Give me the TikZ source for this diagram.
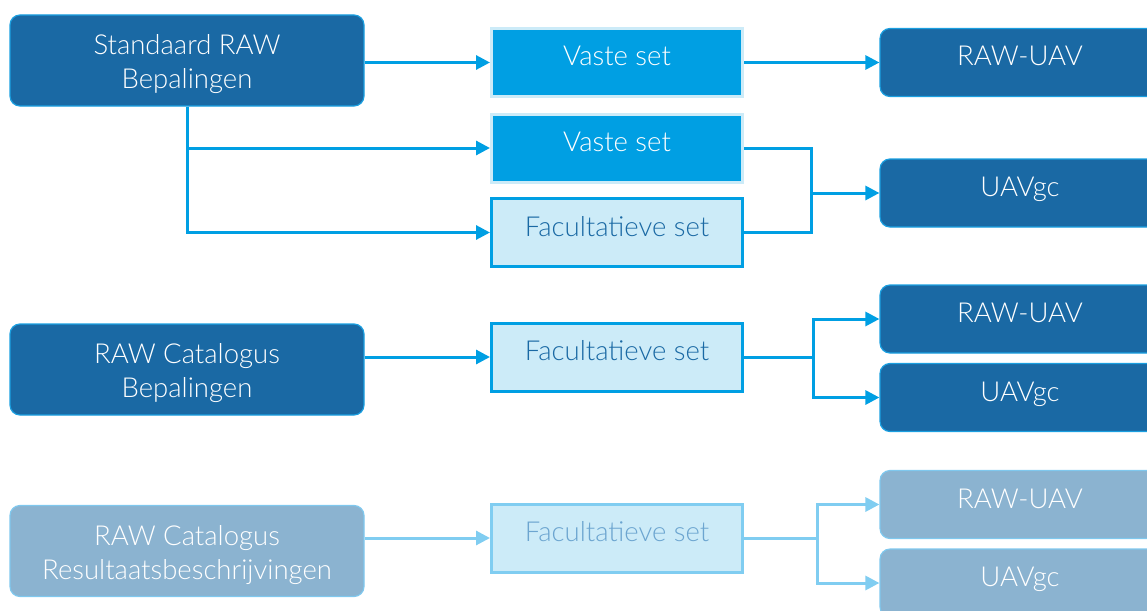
\documentclass[tikz,border=0pt]{standalone}
\usepackage{fontspec}
\setmainfont{Lato}[UprightFont={* Light}]
\usetikzlibrary{arrows.meta}
\newcommand\tallstrut{\rule{0pt}{28pt}}
\definecolor{darkbox}{HTML}{1A69A4}
\definecolor{boxedge}{HTML}{1A9FE0}
\definecolor{vaste}{HTML}{009FE3}
\definecolor{pale}{HTML}{CCEBF8}
\definecolor{fadebox}{HTML}{8BB3D0}
\definecolor{fadeedge}{HTML}{7FC8EE}
\definecolor{fadeline}{HTML}{80CDF1}
\definecolor{fadetext}{HTML}{6CA5D0}
\tikzset{
  lbl/.style={font=\fontsize{27.5}{34}\selectfont, align=center, inner sep=0pt},
  one/.style={text height=20pt, text depth=13pt},
  srcbox/.style={lbl, rounded corners=10pt, fill=darkbox, draw=boxedge, line width=1.2pt, text=white, minimum width=354pt, minimum height=91pt},
  fadesrc/.style={srcbox, fill=fadebox, draw=fadeedge},
  vastebox/.style={lbl, one, fill=vaste, draw=pale, line width=3pt, text=white, minimum width=251pt, minimum height=68pt},
  facbox/.style={lbl, one, fill=pale, draw=vaste, line width=3pt, text=darkbox, minimum width=251pt, minimum height=68pt},
  fadefac/.style={facbox, draw=fadeline, text=fadetext},
  outbox/.style={lbl, one, rounded corners=10pt, fill=darkbox, draw=boxedge, line width=1.2pt, text=white, minimum width=280pt, minimum height=68pt},
  fadeout/.style={outbox, fill=fadebox, draw=fadeedge},
  conn/.style={draw=vaste, line width=3pt},
  arr/.style={conn, -{Triangle[length=14pt,width=14pt]}},
  fconn/.style={draw=fadeline, line width=3pt},
  farr/.style={fconn, -{Triangle[length=14pt,width=14pt]}},
}
\begin{document}
\begin{tikzpicture}[x=1pt,y=-1pt]
\useasboundingbox (0,0) rectangle (1147,610);
\clip (0,0) rectangle (1147,610);
% sources
\node[srcbox] (std) at (187,60.5) {\tallstrut Standaard RAW\\Bepalingen};
\node[srcbox] (cat) at (187,369.5) {\tallstrut RAW Catalogus\\Bepalingen};
\node[fadesrc] (res) at (187,551) {\tallstrut RAW Catalogus\\Resultaatsbeschrijvingen};
% sets
\node[vastebox] (vs1) at (617,62.5) {Vaste set};
\node[vastebox] (vs2) at (617,148) {Vaste set};
\node[facbox] (fac1) at (617,232.5) {Facultatieve set};
\node[facbox] (fac2) at (617,357) {Facultatieve set};
\node[fadefac] (fac3) at (617,538) {Facultatieve set};
% outputs
\node[outbox] (raw1) at (1020,62.5) {RAW-UAV};
\node[outbox] (uav1) at (1020,193) {UAVgc};
\node[outbox] (raw2) at (1020,319) {RAW-UAV};
\node[outbox] (uav2) at (1020,397.5) {UAVgc};
\node[fadeout] (raw3) at (1020,504.5) {RAW-UAV};
\node[fadeout] (uav3) at (1020,583) {UAVgc};
% junctions
\coordinate (m1) at (811,193);
\coordinate (f2) at (813,357);
\coordinate (f3) at (817,538);
% row 1
\draw[arr] (vs1.west -| std.east) -- (vs1.west);
\draw[arr] (std.south) |- (vs2.west);
\draw[arr] (std.south) |- (fac1.west);
\draw[arr] (vs1.east) -- (raw1.west);
\draw[conn] (vs2.east) -| (m1);
\draw[conn] (fac1.east) -| (m1);
\draw[arr] (m1) -- (uav1.west);
% row 2
\draw[arr] (fac2.west -| cat.east) -- (fac2.west);
\draw[conn] (fac2.east) -- (f2);
\draw[arr] (f2) |- (raw2.west);
\draw[arr] (f2) |- (uav2.west);
% row 3
\draw[farr] (fac3.west -| res.east) -- (fac3.west);
\draw[fconn] (fac3.east) -- (f3);
\draw[farr] (f3) |- (raw3.west);
\draw[farr] (f3) |- (uav3.west);
\end{tikzpicture}
\end{document}
